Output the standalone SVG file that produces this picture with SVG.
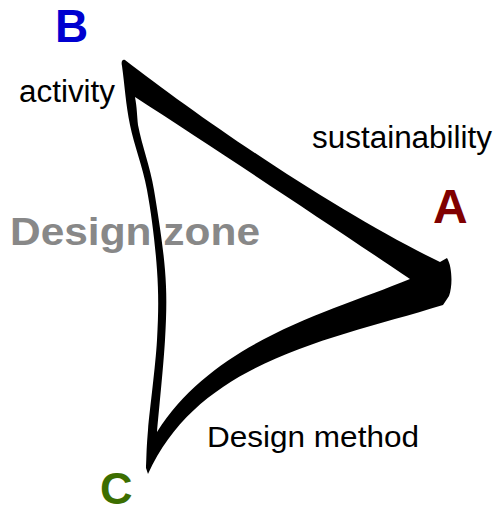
<svg xmlns="http://www.w3.org/2000/svg" width="496" height="513" viewBox="0 0 496 513">
<style>
.lbl{font-family:"Liberation Sans",Arial,sans-serif;fill:#000}
.vtx{font-family:"Liberation Sans",Arial,sans-serif;font-weight:bold}
.zone{font-family:"Liberation Sans",Arial,sans-serif;font-weight:bold;fill:#888}
.stroke{fill:#000;fill-rule:evenodd}
</style>
<rect width="496" height="513" fill="#fff"/>
<g id="connectors">
<path class="stroke" d="M125,60 C205,122 340,214 440,262 L447,258 C452,266 453,285 449,296 L443,305 C330,340 200,360 148,474 L146,468 C146.7,455.3 146.2,451.3 148,430 C149.8,408.7 155.5,366.7 157,340 C158.5,313.3 158.7,295 157,270 C155.3,245 151.5,214.2 147,190 C142.5,165.8 134.2,145.7 130,125 C125.8,104.3 124.7,85.7 122,66 C121,62 122,59 125,60 Z M135,97 C220,152 330,225 410,279 C330,312 215,340 157,432 C159,410 163.5,366 165,340 C166.5,313 167,295 165,270 C163,245 158,214 154,190 C150,166 142,146 138,125 C137,115 137,108 135,97 Z"/>
</g>
<g id="zone"><text class="zone" x="10" y="245" font-size="39" textLength="250" lengthAdjust="spacingAndGlyphs">Design zone</text></g>
<g id="nodeB"><text class="vtx" x="55" y="42" font-size="46" fill="#0000d0">B</text><text class="lbl" x="19" y="102" font-size="31" textLength="96" lengthAdjust="spacingAndGlyphs">activity</text></g>
<g id="nodeA"><text class="vtx" x="433" y="223" font-size="48" fill="#800000">A</text><text class="lbl" x="312" y="148" font-size="31" textLength="180" lengthAdjust="spacingAndGlyphs">sustainability</text></g>
<g id="nodeC"><text class="vtx" x="100" y="504" font-size="45" fill="#3c6e00">C</text><text class="lbl" x="207" y="447" font-size="30" textLength="212" lengthAdjust="spacingAndGlyphs">Design method</text></g>
</svg>
